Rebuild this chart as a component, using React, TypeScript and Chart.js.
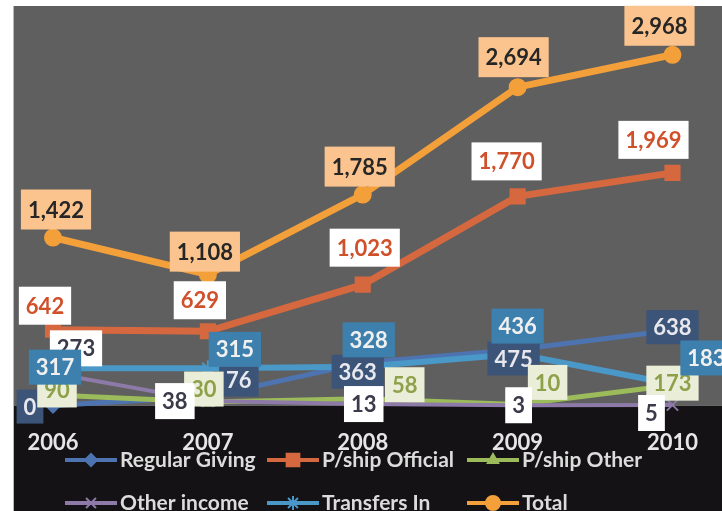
import React, { useEffect, useRef } from 'react';
import { Chart, registerables } from 'chart.js';
import { drawPoint } from 'chart.js/helpers';

Chart.register(...registerables);

// ---- Data ----
const years = ['2006', '2007', '2008', '2009', '2010'];
const seriesNames = ['Regular Giving', 'P/ship Official', 'P/ship Other', 'Other income', 'Transfers In', 'Total'];
const regularGiving = [0, 76, 363, 475, 638];
const pshipOfficial = [642, 629, 1023, 1770, 1969];
const pshipOther = [90, 30, 58, 10, 173];
const otherIncome = [273, 38, 13, 3, 5];
const transfersIn = [317, 315, 328, 436, 183];
const total = [1422, 1108, 1785, 2694, 2968];

const seriesValues = [regularGiving, pshipOfficial, pshipOther, otherIncome, transfersIn, total];

// ---- Styles ----
const lineColors = ['#4d74b0', '#d5683f', '#9cbb5a', '#8d7aa8', '#4a98c8', '#f3a03a'];
const lineWidths = [5, 7, 5, 4, 6, 7];
const markerStyles = ['rectRot', 'rect', 'triangle', 'crossRot', 'star', 'circle'];
const markerRadius = [7, 10, 7, 8, 8, 8];
const labelBg = ['#3b5478', '#ffffff', '#eaeed8', '#ffffff', '#3d80ad', '#fbc48e'];
const labelFg = ['#e8e8ee', '#d0502a', '#8ea04a', '#3a3a4a', '#f0f0f0', '#262626'];
const labelHeights = [34, 38, 35, 36, 35, 40];
// label centre offsets from each point (px)
const labelOffsets = [
  [[-23, 1], [31, -17], [-5, 9], [-4, 9], [0, -3]],
  [[-8, -24], [-8, -31], [2, -37], [-11, -35], [-19, -33]],
  [[4, -5], [-4, -13], [42, -14], [30, -22], [0, -2]],
  [[23, -25], [-33, 0], [1, 0], [1, 0], [-21, 8]],
  [[2, -1], [27, -19], [6, -27], [0, -28], [34, -26]],
  [[3, -28], [-3, -23], [-3, -28], [-4, -30], [-13, -29]],
];
const legendCols = [65, 267, 467];
const legendRows = [460, 503];

const FONT = 'Lato, "Open Sans", sans-serif';

const bgPlugin = {
  id: 'bgPlugin',
  beforeDraw(chart: any) {
    const { ctx, width, height, chartArea } = chart;
    ctx.save();
    ctx.fillStyle = '#ffffff';
    ctx.fillRect(0, 0, width, height);
    const bottom = chartArea.bottom;
    ctx.fillStyle = '#5f5f5f';
    ctx.fillRect(14, 6, width - 14, bottom - 6);
    ctx.fillStyle = '#141214';
    ctx.fillRect(14, bottom, width - 14, height - bottom);
    ctx.fillStyle = '#b8b8b8';
    ctx.fillRect(13, 6, 1, height - 6);
    ctx.restore();
  },
};

const labelPlugin = {
  id: 'labelPlugin',
  afterDatasetsDraw(chart: any) {
    const { ctx } = chart;
    ctx.save();
    ctx.font = 'bold 22px ' + FONT;
    ctx.textAlign = 'center';
    ctx.textBaseline = 'middle';
    chart.data.datasets.forEach((ds: any, i: number) => {
      const meta = chart.getDatasetMeta(i);
      meta.data.forEach((el: any, j: number) => {
        const v = ds.data[j];
        const text = v.toLocaleString('en-US');
        const off = labelOffsets[i][j];
        const cx = el.x + off[0];
        const cy = el.y + off[1];
        const w = ctx.measureText(text).width + 14;
        const h = labelHeights[i];
        ctx.fillStyle = labelBg[i];
        ctx.fillRect(cx - w / 2, cy - h / 2, w, h);
        ctx.fillStyle = labelFg[i];
        ctx.fillText(text, cx, cy + 1);
      });
    });
    ctx.restore();
  },
};

const legendPlugin = {
  id: 'customLegend',
  afterDraw(chart: any) {
    const { ctx } = chart;
    ctx.save();
    chart.data.datasets.forEach((ds: any, i: number) => {
      const x = legendCols[i % 3];
      const y = legendRows[Math.floor(i / 3)];
      ctx.strokeStyle = lineColors[i];
      ctx.lineWidth = 4;
      ctx.beginPath();
      ctx.moveTo(x, y);
      ctx.lineTo(x + 52, y);
      ctx.stroke();
      ctx.fillStyle = lineColors[i];
      ctx.strokeStyle = lineColors[i];
      ctx.lineWidth = 2;
      drawPoint(ctx, {
        pointStyle: markerStyles[i],
        radius: markerRadius[i] - 1,
        borderWidth: 2,
        rotation: 0,
      } as any, x + 26, y);
      ctx.font = 'bold 21px ' + FONT;
      ctx.fillStyle = '#dcdcdc';
      ctx.textAlign = 'left';
      ctx.textBaseline = 'middle';
      ctx.fillText(ds.label, x + 55, y);
    });
    ctx.restore();
  },
};

export default function App() {
  const ref = useRef<HTMLCanvasElement>(null);
  useEffect(() => {
    if (!ref.current) return;
    const chart = new Chart(ref.current, {
      type: 'line',
      data: {
        labels: years,
        datasets: seriesValues.map((vals, i) => ({
          label: seriesNames[i],
          data: vals,
          borderColor: lineColors[i],
          backgroundColor: lineColors[i],
          borderWidth: lineWidths[i],
          pointStyle: markerStyles[i] as any,
          pointRadius: markerRadius[i],
          pointBackgroundColor: lineColors[i],
          pointBorderColor: lineColors[i],
          pointBorderWidth: 2,
          tension: 0,
          clip: false as any,
          order: seriesValues.length - i,
        })),
      },
      options: {
        animation: false,
        responsive: false,
        layout: { padding: { left: 53, right: 45, top: 51, bottom: 31 } },
        plugins: { legend: { display: false }, tooltip: { enabled: false } },
        scales: {
          x: {
            offset: false,
            grid: { display: false, drawTicks: false },
            border: { display: false },
            ticks: { color: '#e6e6e6', font: { family: FONT, size: 22, weight: 'bold' }, padding: 24, maxRotation: 0, autoSkip: false },
          },
          y: { display: false, min: 0, max: 3000 },
        },
      },
      plugins: [bgPlugin, labelPlugin, legendPlugin],
    });
    return () => chart.destroy();
  }, []);
  return (
    <div style={{ position: 'absolute', left: 0, top: 0, width: 722, height: 511 }}>
      <canvas ref={ref} width={722} height={511} style={{ display: 'block' }} />
    </div>
  );
}
